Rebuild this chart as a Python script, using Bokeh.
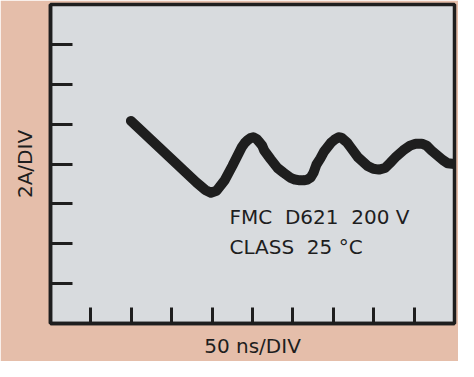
from bokeh.plotting import figure
from bokeh.models import FixedTicker, Label
from bokeh.embed import file_html
from bokeh.resources import INLINE

# Trace, in screen divisions (50 ns/div, 2 A/div)
time_div = [1.99, 2.82, 3.61, 3.83, 3.97, 4.11, 4.31, 4.50, 4.74, 4.81, 4.88, 4.95,
            5.02, 5.10, 5.17, 5.24, 5.29, 5.45, 5.62, 5.77, 5.93, 6.05, 6.17, 6.27,
            6.36, 6.44, 6.51, 6.58, 6.68, 6.77, 6.94, 7.03, 7.13, 7.20, 7.27, 7.34,
            7.42, 7.61, 7.85, 7.99, 8.13, 8.28, 8.40, 8.56, 8.73, 8.90, 9.04, 9.19,
            9.31, 9.43, 9.57, 9.71, 9.83, 10.0]
current_div = [5.08, 4.29, 3.54, 3.35, 3.28, 3.33, 3.59, 3.95, 4.43, 4.53, 4.60, 4.65,
               4.67, 4.63, 4.55, 4.46, 4.34, 4.12, 3.90, 3.78, 3.66, 3.61, 3.59, 3.59,
               3.61, 3.66, 3.78, 3.98, 4.14, 4.31, 4.53, 4.61, 4.67, 4.66, 4.60, 4.54,
               4.43, 4.17, 3.95, 3.88, 3.86, 3.90, 4.02, 4.19, 4.34, 4.46, 4.51, 4.51,
               4.46, 4.34, 4.22, 4.10, 4.02, 4.00]

x_ticks = [1, 2, 3, 4, 5, 6, 7, 8, 9]
y_ticks = [1, 2, 3, 4, 5, 6, 7]
x_title = "50 ns/DIV"
y_title = "2A/DIV"
NB = "\u00a0"
note_lines = ["FMC" + NB * 2 + "D621" + NB * 2 + "200 V",
              "CLASS" + NB * 2 + "25 °C"]

INK = "#1e1e1e"
FONT = "DejaVu Sans"

p = figure(width=458, height=361, x_range=(0, 10), y_range=(0, 8),
           output_backend="svg", toolbar_location=None,
           min_border_left=50, min_border_right=4, min_border_top=4, min_border_bottom=38)

p.background_fill_color = "#D8DBDE"
p.border_fill_color = "#E5BEAA"
p.outline_line_color = INK
p.outline_line_width = 3.5
p.grid.visible = False

for ax, ticks, tick_len in ((p.xaxis, x_ticks, 16), (p.yaxis, y_ticks, 22)):
    ax.ticker = FixedTicker(ticks=ticks)
    ax.minor_tick_line_color = None
    ax.major_tick_in = tick_len
    ax.major_tick_out = 0
    ax.major_tick_line_width = 3
    ax.major_tick_line_color = INK
    ax.axis_line_color = INK
    ax.axis_line_width = 3.5
    ax.major_label_text_color = None
    ax.major_label_text_font_size = "1px"
    ax.major_label_standoff = 0
    ax.axis_label_text_font = FONT
    ax.axis_label_text_font_style = "normal"
    ax.axis_label_text_font_size = "20px"
    ax.axis_label_text_color = INK

p.xaxis.axis_label = x_title
p.yaxis.axis_label = y_title
p.xaxis.axis_label_standoff = 10
p.yaxis.axis_label_standoff = 14

p.line(time_div, current_div, line_width=10, line_color=INK,
       line_cap="round", line_join="round")

for i, txt in enumerate(note_lines):
    p.add_layout(Label(x=4.43, y=2.66 - 0.73 * i, text=txt, text_font=FONT,
                       text_font_size="20px", text_color=INK,
                       text_baseline="alphabetic", text_align="left"))

open("out.html", "w").write(file_html(p, INLINE))
